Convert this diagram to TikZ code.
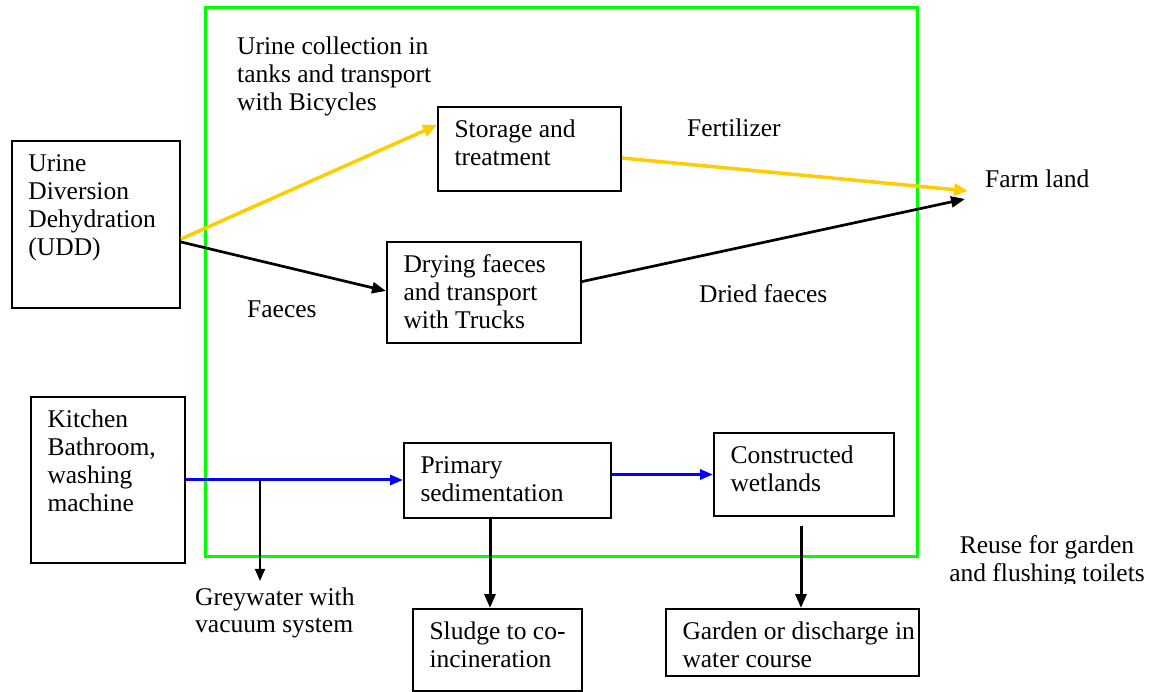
\documentclass[tikz,border=0pt]{standalone}
\usepackage{fontspec}
\setmainfont{Liberation Serif}
\usetikzlibrary{arrows.meta,calc}

\definecolor{framegreen}{RGB}{0,255,0}
\definecolor{flowyellow}{RGB}{255,204,0}
\definecolor{flowblue}{RGB}{0,0,255}

% text of a process box: fixed size, top-aligned, indented on the left
\newcommand\flowtext[3]{\parbox[c][#2][t]{#1}{\raggedright\leftskip=16.5pt\relax\vspace*{11.6pt}\strut#3}}
% free-standing text lines; the node baseline is the first line's baseline
\newcommand\textlines[2]{\begin{tabular}[t]{@{}#1@{}}#2\end{tabular}}

\begin{document}
\begin{tikzpicture}[x=1pt,y=-1pt,
  font=\fontsize{25.5}{27.7}\selectfont,
  stepbox/.style={draw, line width=2pt, inner sep=0pt, anchor=north west},
  freetext/.style={inner sep=0pt, anchor=base west},
  yarrow/.style={draw=flowyellow, line width=3.5pt, -{Triangle[length=14pt,width=12pt]}},
  karrow/.style={draw=black, line width=3pt, -{Triangle[length=14pt,width=11pt]}},
  barrow/.style={draw=flowblue, line width=3pt, -{Triangle[length=13pt,width=10pt]}},
  thinarrow/.style={draw=black, line width=2pt, -{Triangle[length=12pt,width=10pt]}}]

\useasboundingbox (0,0) rectangle (1152,692);

% project boundary
\draw[framegreen, line width=3pt] (205,8) rectangle (917,556);

% process boxes
\node[stepbox] (udd)    at (11,140)  {\flowtext{168pt}{167pt}{Urine\\Diversion\\Dehydration\\(UDD)}};
\node[stepbox] (store)  at (437,106) {\flowtext{183pt}{84pt}{Storage and\\treatment}};
\node[stepbox] (dry)    at (386,241) {\flowtext{194pt}{101pt}{Drying faeces\\and transport\\with Trucks}};
\node[stepbox] (kit)    at (30,396)  {\flowtext{154pt}{166pt}{Kitchen\\Bathroom,\\washing\\machine}};
\node[stepbox] (prim)   at (403,442) {\flowtext{207pt}{75pt}{Primary\\sedimentation}};
\node[stepbox] (wet)    at (713,432) {\flowtext{180pt}{83pt}{Constructed\\wetlands}};
\node[stepbox] (sludge) at (412,608) {\flowtext{169pt}{82pt}{Sludge to co-\\incineration}};
\node[stepbox] (garden) at (665,608) {\flowtext{253pt}{67pt}{Garden or discharge in\\water course}};

% free labels
\node[freetext] (collect) at (237,55)  {\textlines{l}{Urine collection in\\tanks and transport\\with Bicycles}};
\node[freetext] (fert)    at (687,137) {\textlines{l}{Fertilizer}};
\node[freetext] (farm)    at (985,188) {\textlines{l}{Farm land}};
\node[freetext] (faeces)  at (247,318) {\textlines{l}{Faeces}};
\node[freetext] (dried)   at (699,303) {\textlines{l}{Dried faeces}};
\node[freetext] (grey)    at (195,605) {\textlines{l}{Greywater with\\vacuum system}};
\begin{scope}
  \clip (925,520) rectangle (1152,583);
  \node[inner sep=0pt, anchor=base] (reuse) at (1047,554) {\textlines{c}{Reuse for garden\\and flushing toilets}};
\end{scope}

% urine and faeces routes
\draw[yarrow] ([yshift=-14.5pt]udd.east) -- ([yshift=24pt]store.west);
\draw[karrow, line width=2.7pt] ([yshift=-17.5pt]udd.east) -- ([yshift=1.5pt]dry.west);
\draw[yarrow] ([yshift=-9pt]store.east) -- ([xshift=-17pt,yshift=-8.5pt]farm.west);
\draw[karrow, line width=2.7pt] ([xshift=-2pt,yshift=10.5pt]dry.east) -- ([xshift=-20pt,yshift=-16.5pt]farm.west);

% greywater route
\draw[barrow] (kit.east) -- (kit.east -| prim.west);
\coordinate (tap) at ([xshift=74pt]kit.east);
\draw[thinarrow, shorten >=4.5pt] (tap) -- (tap |- grey.north);
\draw[barrow] (prim.east |- wet.west) -- (wet.west);

% outlets
\coordinate (primout) at ([xshift=-17.5pt]prim.south);
\draw[karrow] (primout) -- (primout |- sludge.north);
\coordinate (wetout) at ([xshift=-3pt,yshift=-9pt]wet.south);
\draw[karrow] (wetout) -- (wetout |- garden.north);

\end{tikzpicture}
\end{document}
